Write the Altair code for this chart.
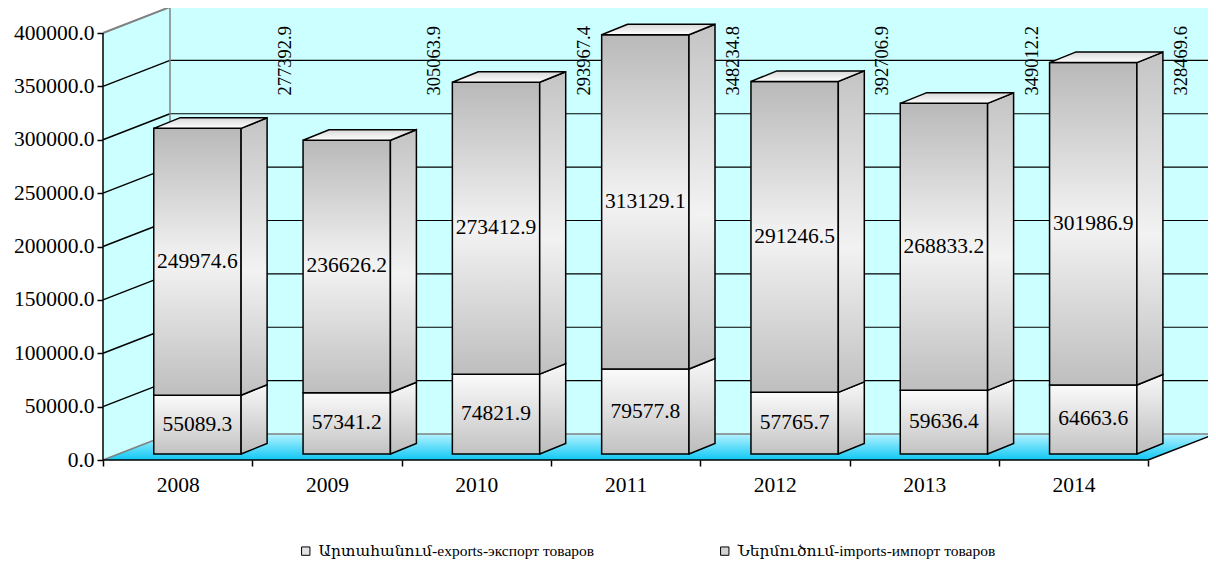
import json
import altair as alt
import pandas as pd

# ---------------- data ----------------
years = ["2008", "2009", "2010", "2011", "2012", "2013", "2014"]
exports = [55089.3, 57341.2, 74821.9, 79577.8, 57765.7, 59636.4, 64663.6]
imports = [249974.6, 236626.2, 273412.9, 313129.1, 291246.5, 268833.2, 301986.9]
total_labels = [277392.9, 305063.9, 293967.4, 348234.8, 392706.9, 349012.2, 328469.6]
y_ticks = [0, 50000, 100000, 150000, 200000, 250000, 300000, 350000, 400000]
series_names = ["Արտահանում-exports-экспорт товаров", "Ներմուծում-imports-импорт товаров"]

# ---------------- geometry / style ----------------
SERIF = "Liberation Serif, DejaVu Serif, serif"
N = len(years)
W, H = 1105, 452
CAT_PX = 149.3
PX_Y = 400000 / 427.0
X_MAX = W / CAT_PX
Y_MAX = H * PX_Y
Y_TOP = y_ticks[-1]
DEPTH_X = 67 / CAT_PX
DEPTH_Y = 26 * PX_Y
BAR_X0, BAR_X1 = 0.34, 0.925
BASE_Y = 6 * PX_Y
BAR_DX = 26 / CAT_PX
BAR_DY = 10.5 * PX_Y
TOTAL_X = 1.22
TOTAL_Y = 374000

xs = alt.Scale(domain=[0, X_MAX], nice=False, zero=False)
ys = alt.Scale(domain=[0, Y_MAX], nice=False, zero=False)

XAXIS = alt.Axis(values=list(range(N + 1)), labelExpr=f"{json.dumps(years)}[datum.value] || ''",
                 labelOffset=CAT_PX / 2, tickSize=6, tickColor="black", tickWidth=1.5,
                 domain=False, grid=False, labelFont=SERIF, labelFontSize=21.5,
                 labelColor="black", labelPadding=8, labelOverlap=False, labelBound=False,
                 labelFlush=False, title=None)
YAXIS = alt.Axis(values=y_ticks, format=".1f", tickSize=6, tickColor="black", tickWidth=1.5,
                 domain=False, grid=False, labelFont=SERIF, labelFontSize=21.5,
                 labelColor="black", labelPadding=3, labelFlush=False, title=None)


def X(f="x"):
    return alt.X(f"{f}:Q", scale=xs, axis=XAXIS, title=None, stack=None)


def Y(f="y"):
    return alt.Y(f"{f}:Q", scale=ys, axis=YAXIS, title=None, stack=None)


def vgrad(stops):
    return alt.LinearGradient(gradient="linear",
                              stops=[alt.GradientStop(offset=o, color=c) for o, c in stops],
                              x1=0, x2=0, y1=0, y2=1)


WALL = "#ccffff"
GRID_GRAY = "#808080"

# legend proxy (hidden behind back wall)
legend_df = pd.DataFrame({"series": series_names, "x": [3.5, 3.6], "y": [200000, 200000]})
legend_layer = alt.Chart(legend_df).mark_square(size=70, stroke="black", strokeWidth=1, opacity=1).encode(
    x=X(), y=Y(),
    color=alt.Color("series:N", scale=alt.Scale(domain=series_names, range=["#e4e4e4", "#d2d2d2"]),
                    legend=alt.Legend(orient="none", legendX=195, legendY=535, direction="horizontal",
                                      title=None, labelFont=SERIF, labelFontSize=15.5, labelColor="black",
                                      symbolType="square", symbolSize=70, symbolStrokeColor="black",
                                      symbolStrokeWidth=1, columnPadding=122, labelLimit=600,
                                      labelOffset=5))
)

# walls
back_df = pd.DataFrame({"x": [DEPTH_X], "x2": [N + DEPTH_X], "y": [DEPTH_Y], "y2": [Y_TOP + DEPTH_Y]})
back_wall = alt.Chart(back_df).mark_rect(color=WALL).encode(x=X(), x2="x2:Q", y=Y(), y2="y2:Q")

left_df = pd.DataFrame({"x": [0, DEPTH_X], "y": [0, DEPTH_Y], "y2": [Y_TOP, Y_TOP + DEPTH_Y]})
left_wall = alt.Chart(left_df).mark_area(color=WALL, orient="vertical").encode(x=X(), y=Y(), y2="y2:Q")

floor_df = pd.DataFrame({"y": [0, DEPTH_Y], "x": [0, DEPTH_X], "x2": [N, N + DEPTH_X]})
floor = alt.Chart(floor_df).mark_area(
    orient="horizontal",
    color=vgrad([(0, "#b4f2ff"), (1, "#10c8f4")])
).encode(y=Y(), x=X(), x2="x2:Q")

# grid lines and wall edges
rules = []
for v in y_ticks[1:-1]:
    rules.append({"x": DEPTH_X, "x2": N + DEPTH_X + 1, "y": v + DEPTH_Y, "y2": v + DEPTH_Y, "c": "black", "w": 1.2})
for v in y_ticks[1:-1]:
    rules.append({"x": 0, "x2": DEPTH_X, "y": v, "y2": v + DEPTH_Y, "c": "black", "w": 1.5})
rules.append({"x": 0, "x2": DEPTH_X, "y": Y_TOP, "y2": Y_TOP + DEPTH_Y, "c": GRID_GRAY, "w": 2})
rules.append({"x": 0, "x2": DEPTH_X, "y": 0, "y2": DEPTH_Y, "c": GRID_GRAY, "w": 1.5})
rules.append({"x": DEPTH_X, "x2": N + DEPTH_X + 1, "y": Y_TOP + DEPTH_Y, "y2": Y_TOP + DEPTH_Y, "c": GRID_GRAY, "w": 2})
rules.append({"x": DEPTH_X, "x2": N + DEPTH_X + 1, "y": DEPTH_Y, "y2": DEPTH_Y, "c": GRID_GRAY, "w": 1.5})
rules.append({"x": DEPTH_X, "x2": DEPTH_X, "y": DEPTH_Y, "y2": Y_TOP + DEPTH_Y, "c": GRID_GRAY, "w": 1.5})
# front axis lines
rules.append({"x": 0, "x2": 0, "y": 0, "y2": Y_TOP, "c": "black", "w": 1.5})
rules.append({"x": 0, "x2": N, "y": 0, "y2": 0, "c": "black", "w": 1.5})
rules.append({"x": N, "x2": N + DEPTH_X, "y": 0, "y2": DEPTH_Y, "c": "black", "w": 1.5})
rules_df = pd.DataFrame(rules)
grid_layer = alt.Chart(rules_df).mark_rule().encode(
    x=X(), x2="x2:Q", y=Y(), y2="y2:Q",
    color=alt.Color("c:N", scale=None), strokeWidth=alt.StrokeWidth("w:Q", scale=None))

# bars
front_e, front_i, side_e, side_i, tops, seg_labels = [], [], [], [], [], []
for i in range(N):
    e, m = exports[i], imports[i]
    x0, x1 = i + BAR_X0, i + BAR_X1
    lo_e, hi_e = BASE_Y, BASE_Y + e
    lo_i, hi_i = hi_e, hi_e + m
    front_e.append({"x": x0, "x2": x1, "y": lo_e, "y2": hi_e})
    front_i.append({"x": x0, "x2": x1, "y": lo_i, "y2": hi_i})
    for lst, lo, hi in ((side_e, lo_e, hi_e), (side_i, lo_i, hi_i)):
        lst.append({"id": i, "x": x1, "y": lo, "y2": hi})
        lst.append({"id": i, "x": x1 + BAR_DX, "y": lo + BAR_DY, "y2": hi + BAR_DY})
    tops.append({"id": i, "y": hi_i, "x": x0, "x2": x1})
    tops.append({"id": i, "y": hi_i + BAR_DY, "x": x0 + BAR_DX, "x2": x1 + BAR_DX})
    seg_labels.append({"x": (x0 + x1) / 2, "y": (lo_e + hi_e) / 2, "t": f"{e:.1f}"})
    seg_labels.append({"x": (x0 + x1) / 2, "y": (lo_i + hi_i) / 2, "t": f"{m:.1f}"})

G_EXP = vgrad([(0, "#fbfbfb"), (1, "#c2c2c2")])
G_IMP = vgrad([(0, "#b9b9b9"), (0.5, "#f3f3f3"), (1, "#bebebe")])
G_EXP_S = vgrad([(0, "#f8f8f8"), (1, "#bcbcbc")])
G_IMP_S = vgrad([(0, "#c4c4c4"), (0.55, "#f2f2f2"), (1, "#c0c0c0")])
G_TOP = vgrad([(0, "#d8d8d8"), (1, "#ffffff")])

STROKE = dict(stroke="black", strokeWidth=1.5)

fe = alt.Chart(pd.DataFrame(front_e)).mark_rect(color=G_EXP, **STROKE).encode(x=X(), x2="x2:Q", y=Y(), y2="y2:Q")
fi = alt.Chart(pd.DataFrame(front_i)).mark_rect(color=G_IMP, **STROKE).encode(x=X(), x2="x2:Q", y=Y(), y2="y2:Q")
se = alt.Chart(pd.DataFrame(side_e)).mark_area(color=G_EXP_S, orient="vertical", **STROKE).encode(
    x=X(), y=Y(), y2="y2:Q", detail="id:N")
si = alt.Chart(pd.DataFrame(side_i)).mark_area(color=G_IMP_S, orient="vertical", **STROKE).encode(
    x=X(), y=Y(), y2="y2:Q", detail="id:N")
tp = alt.Chart(pd.DataFrame(tops)).mark_area(color=G_TOP, orient="horizontal", **STROKE).encode(
    y=Y(), x=X(), x2="x2:Q", detail="id:N")

seg_text = alt.Chart(pd.DataFrame(seg_labels)).mark_text(
    font=SERIF, fontSize=21.5, color="black", align="center", baseline="middle").encode(
    x=X(), y=Y(), text="t:N")

tot_df = pd.DataFrame({"x": [k + TOTAL_X for k in range(len(total_labels))],
                       "y": [TOTAL_Y] * len(total_labels),
                       "t": [f"{v:.1f}" for v in total_labels]})
tot_text = alt.Chart(tot_df).mark_text(
    font=SERIF, fontSize=18.5, color="black", align="center", baseline="middle", angle=270).encode(
    x=X(), y=Y(), text="t:N")

chart = alt.layer(legend_layer, back_wall, left_wall, floor, grid_layer, fe, fi, se, si, tp,
                  seg_text, tot_text).properties(
    width=W, height=H,
    padding={"left": 95, "top": 0, "right": 0, "bottom": 104},
    autosize=alt.AutoSizeParams(type="none"),
    background="white",
).configure_view(stroke=None)

chart.save("out.html", embed_options={"renderer": "svg", "actions": False})
